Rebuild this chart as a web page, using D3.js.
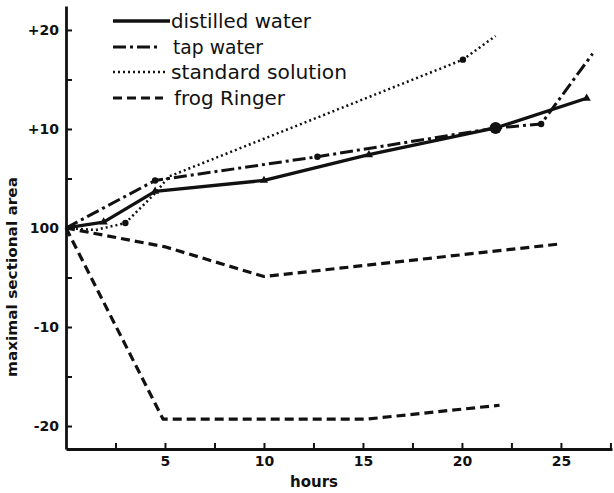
<!DOCTYPE html>
<html><head><meta charset="utf-8">
<script src="https://cdn.jsdelivr.net/npm/d3@7"></script>
<style>body{margin:0;background:#fff}svg{display:block}</style>
</head><body>
<svg id="c" width="614" height="493"></svg>
<script>
// ---- data ----
const seriesNames = ["distilled water", "tap water", "standard solution", "frog Ringer"];
const distilledHours = [0, 1.9, 4.5, 10.0, 15.3, 21.7, 26.3];
const distilledValues = [0, 0.6, 3.7, 4.8, 7.4, 10.1, 13.1];
const tapHours = [0, 4.5, 12.7, 21.7, 24.0, 26.6];
const tapValues = [0, 4.8, 7.2, 10.1, 10.5, 17.6];
const standardHours = [0, 1.5, 3.0, 4.5, 5.2, 20.05, 21.7];
const standardValues = [0, -0.2, 0.5, 3.5, 5.2, 17.0, 19.4];
const ringerAHours = [0, 5, 10, 25];
const ringerAValues = [0, -1.9, -4.9, -1.6];
const ringerBHours = [0, 4.9, 15.2, 21.9];
const ringerBValues = [0, -19.3, -19.3, -17.9];
const xTickValues = [2.5, 5, 7.5, 10, 12.5, 15, 17.5, 20, 22.5, 25, 27.5];
const xTickLabels = {5: "5", 10: "10", 15: "15", 20: "20", 25: "25"};
const yTickValues = [-20, -15, -10, -5, 0, 5, 10, 15, 20];
const yTickLabels = {"-20": "-20", "-10": "-10", "0": "100", "10": "+10", "20": "+20"};

const svg = d3.select("#c");
const x = d3.scaleLinear().domain([0, 27.58]).range([66, 612]);
const y = d3.scaleLinear().domain([-22.32, 22.42]).range([449, 6]);

const ink = "#111";
const styles = {
  solid: {dash: null, w: 3.3},
  dashdot: {dash: "13,4,3,4", w: 3},
  dotted: {dash: "2,3", w: 2.5},
  dashed: {dash: "9,5", w: 3.2}
};

// axes
const xAxis = d3.axisBottom(x).tickValues(xTickValues).tickSizeInner(-6).tickSizeOuter(0)
  .tickPadding(7).tickFormat(d => xTickLabels[d] || "");
const gx = svg.append("g").attr("transform", "translate(0,449)").call(xAxis);
const yAxis = d3.axisLeft(y).tickValues(yTickValues).tickSizeInner(-6).tickSizeOuter(0)
  .tickPadding(7).tickFormat(d => yTickLabels[String(d)] || "");
const gy = svg.append("g").attr("transform", "translate(66,0)").call(yAxis);
[gx, gy].forEach(g => {
  g.select(".domain").attr("stroke", ink).attr("stroke-width", 2.8);
  g.selectAll(".tick line").attr("stroke", ink).attr("stroke-width", 2);
  g.selectAll(".tick text").attr("fill", ink).attr("font-family", "DejaVu Sans")
    .attr("font-weight", "bold").attr("font-size", 14);
});

const line = d3.line().x(d => x(d[0])).y(d => y(d[1]));
function drawSeries(hours, values, st) {
  const pts = hours.map((h, i) => [h, values[i]]);
  svg.append("path").datum(pts).attr("d", line).attr("fill", "none")
    .attr("stroke", ink).attr("stroke-width", st.w)
    .attr("stroke-dasharray", st.dash).attr("stroke-linejoin", "round");
  return pts;
}
const dPts = drawSeries(distilledHours, distilledValues, styles.solid);
const tPts = drawSeries(tapHours, tapValues, styles.dashdot);
const sPts = drawSeries(standardHours, standardValues, styles.dotted);
const raPts = drawSeries(ringerAHours, ringerAValues, styles.dashed);
const rbPts = drawSeries(ringerBHours, ringerBValues, styles.dashed);

// markers
const tri = d3.symbol().type(d3.symbolTriangle).size(30);
svg.selectAll(".tri").data(dPts.slice(1)).join("path")
  .attr("d", tri).attr("transform", d => `translate(${x(d[0])},${y(d[1])})`).attr("fill", ink);
svg.selectAll(".tdot").data(tPts.slice(1, 5)).join("circle")
  .attr("cx", d => x(d[0])).attr("cy", d => y(d[1]))
  .attr("r", (d, i) => i === 2 ? 6 : 3.2).attr("fill", ink);
svg.selectAll(".sdot").data([sPts[2], sPts[5]]).join("circle")
  .attr("cx", d => x(d[0])).attr("cy", d => y(d[1])).attr("r", 3.2).attr("fill", ink);

// axis titles
svg.append("text").attr("x", 314).attr("y", 487).attr("text-anchor", "middle")
  .attr("font-family", "DejaVu Sans").attr("font-weight", "bold").attr("font-size", 15)
  .attr("fill", ink).text("hours");
svg.append("text").attr("transform", "translate(17,277) rotate(-90)").attr("text-anchor", "middle")
  .attr("font-family", "DejaVu Sans").attr("font-weight", "bold").attr("font-size", 14)
  .attr("textLength", 200).attr("lengthAdjust", "spacingAndGlyphs")
  .attr("fill", ink).text("maximal sectional area");

// legend
const legStyles = [styles.solid, styles.dashdot, styles.dotted, styles.dashed];
const legY = [21, 47, 72, 98];
const legLineEnd = [170, 158, 165, 163];
const legTextX = [171, 173, 171, 174];
const legTextW = [140, 90, 176, 111];
seriesNames.forEach((name, i) => {
  svg.append("line").attr("x1", 113).attr("x2", legLineEnd[i]).attr("y1", legY[i]).attr("y2", legY[i])
    .attr("stroke", ink).attr("stroke-width", legStyles[i].w).attr("stroke-dasharray", legStyles[i].dash);
  svg.append("text").attr("x", legTextX[i]).attr("y", legY[i] + 7)
    .attr("font-family", "DejaVu Sans").attr("font-size", 19).attr("fill", ink)
    .attr("textLength", legTextW[i]).attr("lengthAdjust", "spacingAndGlyphs").text(name);
});
</script>
</body></html>
